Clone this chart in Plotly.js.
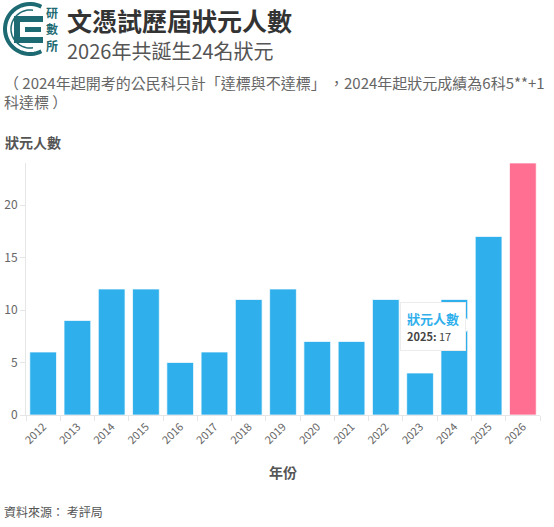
<!DOCTYPE html>
<html>
<head>
<meta charset="utf-8">
<script src="https://cdn.plot.ly/plotly-3.0.1.min.js"></script>
<style>html,body{margin:0;padding:0;background:#fff;}#chart{width:554px;height:527px;}</style>
</head>
<body>
<div id="chart"></div>
<script>
// ---- data ----
const years = ["2012","2013","2014","2015","2016","2017","2018","2019","2020","2021","2022","2023","2024","2025","2026"];
const counts = [6, 9, 12, 12, 5, 6, 11, 12, 7, 7, 11, 4, 11, 17, 24];
const yTicks = [0, 5, 10, 15, 20];
const seriesName = "狀元人數";
const tooltipYear = "2025";
const tooltipValue = 17;
const logoChars = ["研", "數", "所"];

const BLUE = "#2fb0ec", PINK = "#ff6f91", TEAL = "#1d6a72";
const colors = years.map((y, i) => i === years.length - 1 ? PINK : BLUE);

// plot area in pixels
const L = 26, R = 540, T = 163, B = 415;
const px = x => (x - L) / (R - L);
const py = y => (B - y) / (B - T);

const font = "'Noto Sans CJK TC', 'Noto Sans', sans-serif";

// logo arc path
function arc(cx, cy, r, a0, a1, n) {
  let s = "";
  for (let i = 0; i <= n; i++) {
    const a = a0 + (a1 - a0) * i / n;
    const x = px(cx + r * Math.cos(a)), y = py(cy - r * Math.sin(a));
    s += (i === 0 ? "M" : "L") + x + "," + y;
  }
  return s;
}
const shapes = [
  {type:"path", xref:"paper", yref:"paper", path: arc(30, 29, 25, Math.PI*0.35, Math.PI*1.65, 40), line:{color:TEAL, width:4}},
  {type:"path", xref:"paper", yref:"paper", path: arc(30, 29, 19, Math.PI*0.45, Math.PI*1.55, 40), line:{color:TEAL, width:1.5}},
  {type:"rect", xref:"paper", yref:"paper", x0:px(16), x1:px(43), y0:py(16), y1:py(22), fillcolor:TEAL, line:{width:0}},
  {type:"rect", xref:"paper", yref:"paper", x0:px(25), x1:px(41), y0:py(27), y1:py(32), fillcolor:TEAL, line:{width:0}},
  {type:"rect", xref:"paper", yref:"paper", x0:px(16), x1:px(43), y0:py(37), y1:py(43), fillcolor:TEAL, line:{width:0}},
  {type:"rect", xref:"paper", yref:"paper", x0:px(14), x1:px(20), y0:py(16), y1:py(43), fillcolor:TEAL, line:{width:0}},
  // tooltip arrow
  {type:"path", xref:"paper", yref:"paper", path:"M"+px(466)+","+py(318)+"L"+px(473)+","+py(325)+"L"+px(466)+","+py(332)+"Z", fillcolor:"#ffffff", line:{color:"#ffffff", width:0}}
];

const annotations = logoChars.map((c, i) => (
  {text:"<b>"+c+"</b>", x:px(52), y:py(13 + 16*i), xanchor:"center", yanchor:"middle", font:{size:12, color:TEAL, family:font}}
)).concat([
  {text:"<b>文憑試歷屆狀元人數</b>", x:px(65), y:py(20), xanchor:"left", yanchor:"middle", font:{size:25, color:"#333333", family:font}},
  {text:"2026年共誕生24名狀元", x:px(65), y:py(50), xanchor:"left", yanchor:"middle", font:{size:20, color:"#555555", family:font}},
  {text:"（ 2024年起開考的公民科只計「達標與不達標」 ，2024年起狀元成績為6科5**+1", x:px(2), y:py(82), xanchor:"left", yanchor:"middle", font:{size:15, color:"#666666", family:font}},
  {text:"科達標 ）", x:px(2), y:py(101), xanchor:"left", yanchor:"middle", font:{size:15, color:"#666666", family:font}},
  {text:"<b>狀元人數</b>", x:px(3), y:py(142), xanchor:"left", yanchor:"middle", font:{size:14, color:"#555555", family:font}},
  {text:"<b>年份</b>", x:px(283), y:py(472), xanchor:"center", yanchor:"middle", font:{size:14, color:"#555555", family:font}},
  {text:"資料來源： 考評局", x:px(2), y:py(511), xanchor:"left", yanchor:"middle", font:{size:12, color:"#555555", family:font}},
  {text:"<b><span style='color:"+BLUE+"'>"+seriesName+"</span></b><br><span style='font-size:11px'><b>"+tooltipYear+":</b> "+tooltipValue+"</span>",
   x:px(400), y:py(302), xanchor:"left", yanchor:"top", align:"left", showarrow:false,
   bgcolor:"#ffffff", bordercolor:"#ececec", borderwidth:1, borderpad:6,
   font:{size:13, color:"#444444", family:font}}
]).map(a => Object.assign({xref:"paper", yref:"paper", showarrow:false}, a));

const trace = {
  type:"bar", x:years, y:counts, name:seriesName,
  marker:{color:colors, line:{color:"rgba(255,255,255,0.7)", width:1}},
  hoverinfo:"skip"
};

const layout = {
  width:554, height:527,
  margin:{l:L, r:554-R, t:T, b:527-B},
  paper_bgcolor:"#ffffff", plot_bgcolor:"#ffffff",
  showlegend:false, bargap:0.22,
  font:{family:font, color:"#666666"},
  xaxis:{type:"category", tickangle:-45, tickfont:{size:11, color:"#666666"},
         showline:true, linecolor:"#e6e6e6", linewidth:1, showgrid:false,
         ticks:"outside", ticklen:5, tickcolor:"#e6e6e6", tickson:"boundaries", fixedrange:true},
  yaxis:{range:[0,24], tickvals:yTicks, tickfont:{size:12, color:"#666666"},
         showline:true, linecolor:"#e6e6e6", linewidth:1, showgrid:false, zeroline:false,
         ticks:"outside", ticklen:5, tickcolor:"#e6e6e6", fixedrange:true},
  shapes:shapes, annotations:annotations
};

Plotly.newPlot("chart", [trace], layout, {displayModeBar:false, staticPlot:true});
</script>
</body>
</html>
